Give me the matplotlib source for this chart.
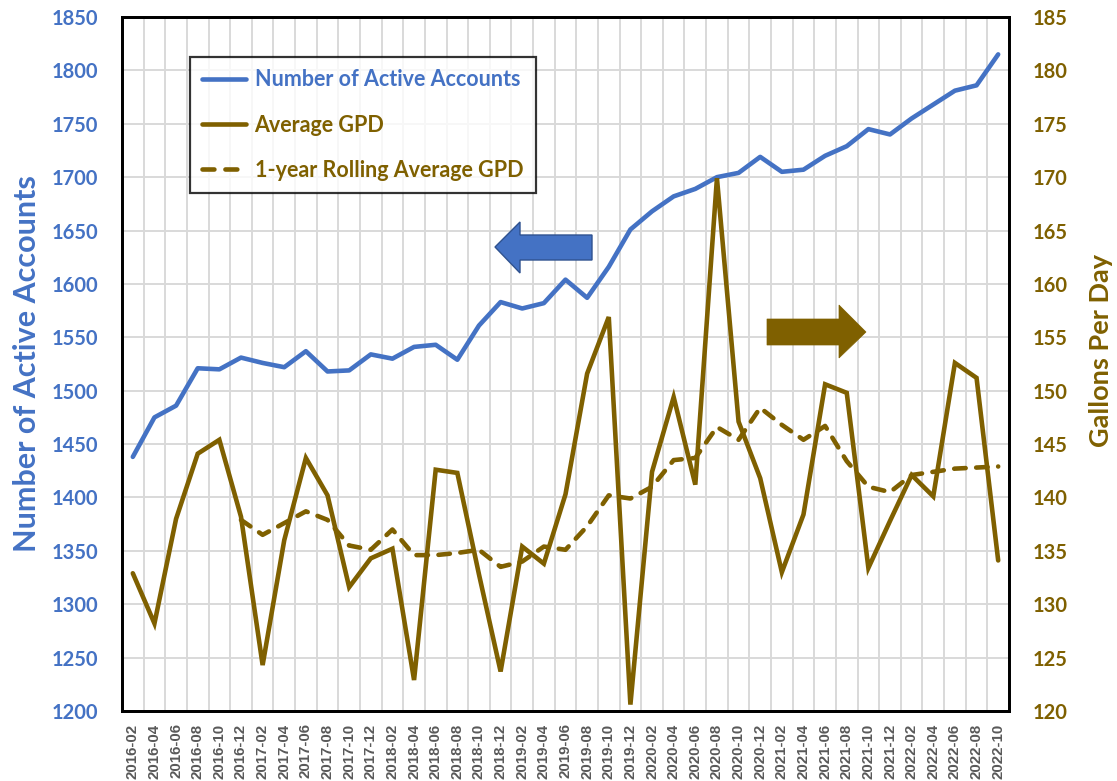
import matplotlib
matplotlib.use("Agg")
import matplotlib.pyplot as plt
from matplotlib.patches import Polygon
from matplotlib.lines import Line2D
import numpy as np

months = ["2016-02", "2016-04", "2016-06", "2016-08", "2016-10", "2016-12",
          "2017-02", "2017-04", "2017-06", "2017-08", "2017-10", "2017-12",
          "2018-02", "2018-04", "2018-06", "2018-08", "2018-10", "2018-12",
          "2019-02", "2019-04", "2019-06", "2019-08", "2019-10", "2019-12",
          "2020-02", "2020-04", "2020-06", "2020-08", "2020-10", "2020-12",
          "2021-02", "2021-04", "2021-06", "2021-08", "2021-10", "2021-12",
          "2022-02", "2022-04", "2022-06", "2022-08", "2022-10"]

active_accounts = [1438, 1475, 1486, 1521, 1520, 1531, 1526, 1522, 1537, 1518,
                   1519, 1534, 1530, 1541, 1543, 1529, 1561, 1583, 1577, 1582,
                   1604, 1587, 1616, 1651, 1668, 1682, 1689, 1700, 1704, 1719,
                   1705, 1707, 1720, 1729, 1745, 1740, 1755, 1768, 1781, 1786,
                   1815]

average_gpd = [132.9, 128.2, 138.0, 144.1, 145.4, 138.2, 124.3, 136.0, 143.7, 140.2,
               131.6, 134.3, 135.2, 122.9, 142.6, 142.3, 132.8, 123.7, 135.4, 133.8,
               140.3, 151.6, 156.9, 120.6, 142.4, 149.4, 141.2, 169.9, 147.1, 141.8,
               133.0, 138.4, 150.6, 149.8, 133.4, 137.8, 142.1, 140.1, 152.6, 151.2,
               134.1]

rolling_gpd = [np.nan, np.nan, np.nan, np.nan, np.nan,
               137.9, 136.5, 137.6, 138.7, 137.9, 135.5, 135.1, 137.0, 134.6, 134.6,
               134.8, 135.1, 133.5, 134.0, 135.4, 135.1, 137.3, 140.2, 139.9, 141.0,
               143.5, 143.7, 146.6, 145.4, 148.4, 146.8, 145.4, 146.7, 143.4, 141.0,
               140.5, 142.1, 142.4, 142.7, 142.8, 142.9]

left_ticks = list(range(1200, 1851, 50))
right_ticks = list(range(120, 186, 5))

BLUE = "#4472C4"
BROWN = "#7F6000"
GREY = "#595959"
GRID = "#D9D9D9"
FONT = "Lato"
LW = 3.3

W, H = 1117, 781
fig = plt.figure(figsize=(W / 100, H / 100), dpi=100)
L, R, T, B = 122, 1009, 17, 711
ax1 = fig.add_axes([L / W, 1 - B / H, (R - L) / W, (B - T) / H])
ax2 = ax1.twinx()

x = np.arange(len(months))

# grid
ax1.set_xticks(x + 0.5, minor=True)
ax1.grid(True, which="minor", axis="x", color=GRID, lw=1.4)
ax1.grid(True, which="major", axis="y", color=GRID, lw=1.4)
ax1.set_axisbelow(True)

ax1.plot(x, active_accounts, color=BLUE, lw=LW, solid_joinstyle="round",
         solid_capstyle="round", zorder=3)
ax2.plot(x, average_gpd, color=BROWN, lw=LW, solid_joinstyle="miter",
         solid_capstyle="round", zorder=3)
ax2.plot(x, rolling_gpd, color=BROWN, lw=LW, dashes=(2.5, 2.3),
         dash_capstyle="round", dash_joinstyle="round", zorder=3)

ax1.set_xlim(-0.5, len(months) - 0.5)
ax1.set_ylim(1200, 1850)
ax2.set_ylim(120, 185)
ax1.set_yticks(left_ticks)
ax2.set_yticks(right_ticks)
ax1.set_xticks(x)
ax1.set_xticklabels(months, rotation=90, fontsize=10.8, fontweight="bold",
                    color=GREY, family="Liberation Sans")

for lab in ax1.get_yticklabels():
    lab.set_fontfamily(FONT)
    lab.set_fontweight("bold")
    lab.set_fontsize(14.5)
    lab.set_color(BLUE)
for lab in ax2.get_yticklabels():
    lab.set_fontfamily(FONT)
    lab.set_fontweight("bold")
    lab.set_fontsize(14.5)
    lab.set_color(BROWN)

ax1.tick_params(axis="both", which="both", length=0)
ax1.tick_params(axis="y", pad=17)
ax1.tick_params(axis="x", pad=9)
ax2.tick_params(axis="y", length=0, pad=17)

for ax in (ax1, ax2):
    for s in ax.spines.values():
        s.set_linewidth(2.0)
        s.set_color("black")

ax1.set_ylabel("Number of Active Accounts", fontsize=22, fontweight="bold",
               color=BLUE, family=FONT)
ax1.yaxis.set_label_coords(-0.091, 0.5)
ax2.set_ylabel("Gallons Per Day", fontsize=19.5, fontweight="bold",
               color=BROWN, family=FONT, rotation=90)
ax2.yaxis.set_label_coords(1.090, 0.52)

handles = [Line2D([], [], color=BLUE, lw=LW, solid_capstyle="round"),
           Line2D([], [], color=BROWN, lw=LW, solid_capstyle="round"),
           Line2D([], [], color=BROWN, lw=LW, dashes=(2.6, 2.4), dash_capstyle="round")]
labels = ["Number of Active Accounts", "Average GPD", "1-year Rolling Average GPD"]
leg = ax2.legend(handles, labels, loc="upper left",
                 bbox_to_anchor=((190 - L) / (R - L), (B - 57) / (B - T)),
                 borderaxespad=0, frameon=True, fancybox=False,
                 prop={"family": FONT, "weight": "bold", "size": 15.5},
                 handlelength=2.0, handletextpad=0.42, labelspacing=1.12,
                 borderpad=0.58)
leg.get_frame().set_edgecolor("black")
leg.get_frame().set_linewidth(1.6)
for t, c in zip(leg.get_texts(), [BLUE, BROWN, BROWN]):
    t.set_color(c)
leg.set_zorder(10)


def px(points):
    return [(a / W, 1 - b / H) for a, b in points]


blue_arrow = Polygon(px([(495, 247), (520, 222), (520, 235), (592, 235),
                         (592, 260), (520, 260), (520, 273)]),
                     closed=True, transform=fig.transFigure, facecolor=BLUE,
                     edgecolor="#2F528F", lw=1.0, zorder=20)
brown_arrow = Polygon(px([(767, 319), (839, 319), (839, 305), (866, 332),
                          (839, 358), (839, 345), (767, 345)]),
                      closed=True, transform=fig.transFigure, facecolor=BROWN,
                      edgecolor=BROWN, lw=0.5, zorder=20)
fig.patches.extend([blue_arrow, brown_arrow])

fig.savefig("out.png", dpi=100, facecolor="white")
